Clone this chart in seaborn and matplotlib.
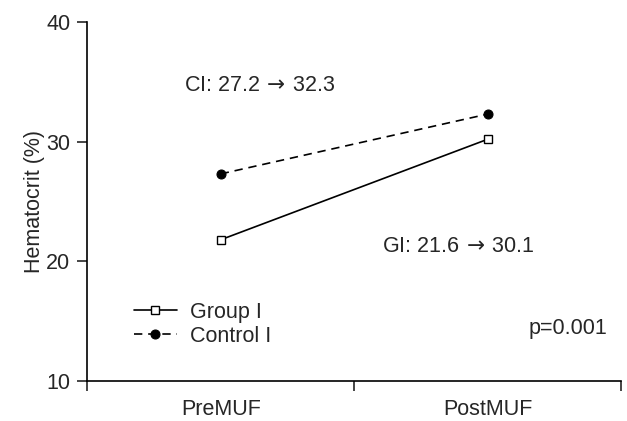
import numpy as np
import pandas as pd
import seaborn as sns
import matplotlib
matplotlib.use("Agg")
import matplotlib.pyplot as plt

# values
phases = ["PreMUF", "PostMUF"]
group_i = [21.8, 30.2]
control_i = [27.3, 32.3]
series_names = ["Group I", "Control I"]

note_ci = r"CI: 27.2$\,\rightarrow\,$32.3"
note_gi = r"GI: 21.6$\,\rightarrow\,$30.1"
note_p = "p=0.001"

sns.set_theme(style="ticks")
plt.rcParams["font.family"] = ["Liberation Sans", "DejaVu Sans"]
plt.rcParams["mathtext.fontset"] = "dejavusans"
fs = 15.5

fig = plt.figure(figsize=(6.27, 4.21), dpi=100)
ax = fig.add_axes([0.139, 0.095, 0.852, 0.853])

df = pd.DataFrame({
    "phase": phases * 2,
    "hct": group_i + control_i,
    "series": [series_names[0]] * 2 + [series_names[1]] * 2,
})

sns.lineplot(data=df[df.series == "Group I"], x="phase", y="hct", ax=ax,
             color="black", lw=1.2, marker="s", markersize=5.5,
             markerfacecolor="white", markeredgecolor="black", markeredgewidth=1.0,
             linestyle="-", label="Group I")
sns.lineplot(data=df[df.series == "Control I"], x="phase", y="hct", ax=ax,
             color="black", lw=1.2, marker="o", markersize=6.5,
             markerfacecolor="black", markeredgecolor="black",
             linestyle=(0, (5, 3.5)), label="Control I")

ax.set_xlim(-0.5, 1.5)
ax.set_ylim(10, 40)
ax.set_yticks([10, 20, 30, 40])
ax.set_xticks([0, 1])
ax.set_xticklabels(phases)
ax.set_xticks([-0.5, 0.5, 1.5], minor=True)
ax.tick_params(axis="x", which="major", length=0, pad=13, labelsize=fs)
ax.tick_params(axis="x", which="minor", length=7, width=1.2, direction="out")
ax.tick_params(axis="y", length=7, width=1.2, direction="out", pad=5, labelsize=fs)

ax.set_xlabel("")
ax.set_ylabel("Hematocrit (%)", fontsize=fs, labelpad=1)
sns.despine(ax=ax)
for s in ["left", "bottom"]:
    ax.spines[s].set_linewidth(1.2)
    ax.spines[s].set_color("black")

ax.text(0.148, 34.7, note_ci, ha="center", va="center", fontsize=fs)
ax.text(0.89, 21.2, note_gi, ha="center", va="center", fontsize=fs)
ax.text(1.30, 14.4, note_p, ha="center", va="center", fontsize=fs)

ax.legend(loc="upper left", bbox_to_anchor=(0.071, 0.245), frameon=False,
          handlelength=2.0, handletextpad=0.6, labelspacing=0.15,
          fontsize=fs, borderaxespad=0)

fig.savefig("out.png", dpi=100)
